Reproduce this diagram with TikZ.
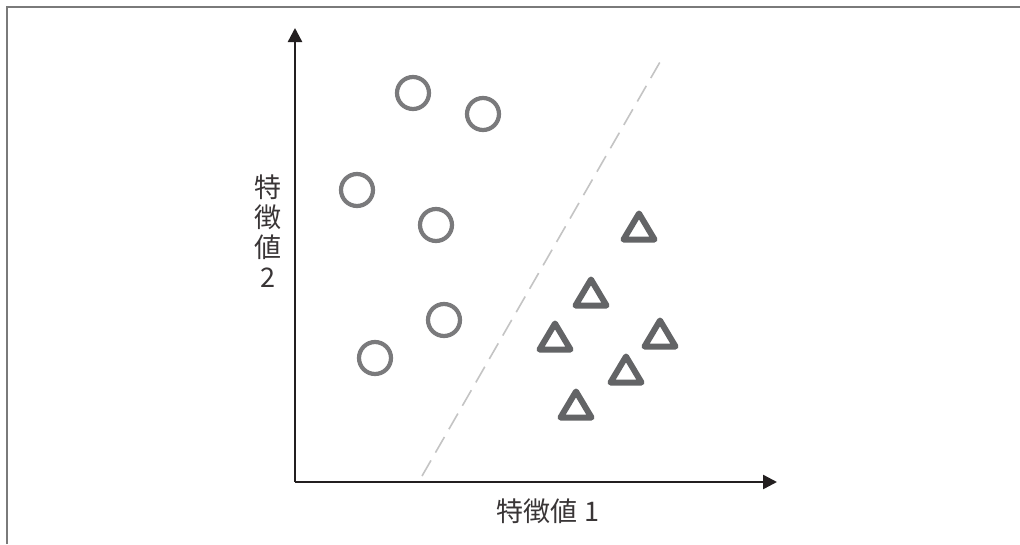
\documentclass[tikz,border=0pt]{standalone}
\usepackage{fontspec}
\newfontfamily\jpfont{Noto Sans CJK JP}
\usetikzlibrary{arrows.meta}
\definecolor{framegray}{HTML}{7A7A7A}
\definecolor{circgray}{HTML}{7A7A7C}
\definecolor{trigray}{HTML}{636466}
\definecolor{axisblack}{HTML}{231F20}
\definecolor{dashgray}{HTML}{C4C4C4}
\tikzset{
  circ/.style={circle, draw=circgray, line width=4.2pt, minimum size=32pt, inner sep=0pt},
  tri/.style={draw=trigray, line width=6pt, line join=round},
  axis/.style={draw=axisblack, line width=2.4pt, -{Triangle[length=14pt,width=14pt]}},
  lab/.style={font=\jpfont\fontsize{27pt}{30pt}\selectfont, text=axisblack!90, inner sep=0pt}
}
\newcommand{\mytri}[3]{% name, cx, top
  \draw[tri] (#2,#3+3.5) -- (#2-15.5,#3+29.5) -- (#2+15.5,#3+29.5) -- cycle;
  \coordinate (#1) at (#2,#3+18);
}
\begin{document}
\begin{tikzpicture}[x=1pt,y=-1pt]
\useasboundingbox (0,0) rectangle (1020,544);
\fill[white] (0,0) rectangle (1020,544);
\draw[framegray, line width=2.2pt] (7,544) -- (7,7) -- (1020,7);
% axes
\coordinate (O) at (295,482);
\coordinate (Y) at (295,28);
\coordinate (X) at (777,482);
\draw[axis] (O) -- (Y);
\draw[axis] (O) -- (X);
% dashed boundary
\coordinate (d1) at (422,476);
\coordinate (d2) at (660,62);
\draw[dashgray, line width=1.6pt, dash pattern=on 18pt off 9pt] (d1) -- (d2);
% circles
\node[circ] (c1) at (413,93) {};
\node[circ] (c2) at (483,114) {};
\node[circ] (c3) at (357,190) {};
\node[circ] (c4) at (436,225) {};
\node[circ] (c5) at (444,320) {};
\node[circ] (c6) at (375,358) {};
% triangles
\mytri{t1}{639}{210}
\mytri{t2}{591}{276}
\mytri{t3}{555}{320}
\mytri{t4}{660}{317}
\mytri{t5}{626}{353}
\mytri{t6}{576}{388}
% labels
\node[lab, align=center] (ylab) at (268,231) {特\\徴\\値\\2};
\node[lab] (xlab) at (548,511) {特徴値 1};
\end{tikzpicture}
\end{document}
